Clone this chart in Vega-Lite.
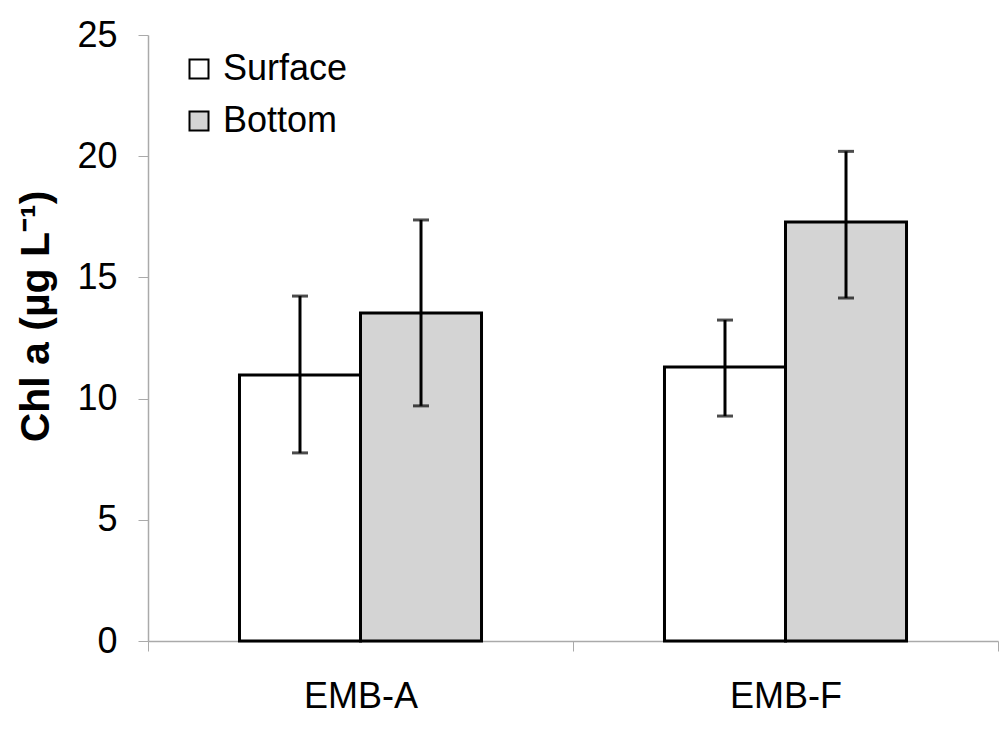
{
  "$schema": "https://vega.github.io/schema/vega-lite/v6.json",
  "autosize": "none",
  "width": 850,
  "height": 606,
  "padding": {"left": 148, "top": 35, "right": 6, "bottom": 89},
  "background": "white",
  "config": {"view": {"stroke": null}, "font": "Liberation Sans"},
  "data": {"values": [
    {"site": "EMB-A", "depth": "Surface", "chl": 10.97, "lo": 7.76, "hi": 14.23},
    {"site": "EMB-A", "depth": "Bottom", "chl": 13.53, "lo": 9.7, "hi": 17.37},
    {"site": "EMB-F", "depth": "Surface", "chl": 11.3, "lo": 9.28, "hi": 13.24},
    {"site": "EMB-F", "depth": "Bottom", "chl": 17.29, "lo": 14.15, "hi": 20.2}
  ]},
  "encoding": {
    "x": {"field": "site", "type": "nominal", "sort": ["EMB-A", "EMB-F"],
      "scale": {"paddingInner": 0, "paddingOuter": 0},
      "axis": {"title": null, "labelAngle": 0, "labelFontSize": 36, "labelColor": "black", "labelPadding": 28,
        "domainColor": "#aaaaaa", "domainWidth": 1.5, "tickColor": "#aaaaaa", "tickSize": 10, "tickBand": "extent"}},
    "xOffset": {"field": "depth", "type": "nominal", "sort": ["Surface", "Bottom"],
      "scale": {"paddingInner": 0, "paddingOuter": 0.756}}
  },
  "layer": [
    {
      "mark": {"type": "bar", "stroke": "black", "strokeWidth": 3},
      "encoding": {
        "y": {"field": "chl", "type": "quantitative", "scale": {"domain": [0, 25], "nice": false},
          "axis": {"title": "Chl a (µg L⁻¹)", "titleFontSize": 41, "titleFontWeight": "bold", "titleColor": "black", "titlePadding": 19, "titleY": 281,
            "values": [0, 5, 10, 15, 20, 25], "labelFontSize": 36, "labelColor": "black", "labelPadding": 21,
            "grid": false, "domainColor": "#aaaaaa", "domainWidth": 1.5, "tickColor": "#aaaaaa", "tickSize": 10}},
        "fill": {"field": "depth", "type": "nominal", "sort": ["Surface", "Bottom"],
          "scale": {"domain": ["Surface", "Bottom"], "range": ["#ffffff", "#d4d4d4"]},
          "legend": {"title": null, "orient": "none", "legendX": 33, "legendY": 16, "symbolType": "square", "symbolSize": 361,
            "symbolStrokeColor": "black", "symbolStrokeWidth": 2, "labelFontSize": 36, "labelColor": "black", "rowPadding": 16, "labelOffset": 6}}
      }
    },
    {
      "mark": {"type": "rule", "color": "black", "strokeWidth": 3},
      "encoding": {"y": {"field": "lo", "type": "quantitative", "scale": {"domain": [0, 25], "nice": false}}, "y2": {"field": "hi"}}
    },
    {
      "mark": {"type": "tick", "color": "black", "size": 16, "thickness": 3, "orient": "horizontal"},
      "encoding": {"y": {"field": "lo", "type": "quantitative", "scale": {"domain": [0, 25], "nice": false}}}
    },
    {
      "mark": {"type": "tick", "color": "black", "size": 16, "thickness": 3, "orient": "horizontal"},
      "encoding": {"y": {"field": "hi", "type": "quantitative", "scale": {"domain": [0, 25], "nice": false}}}
    }
  ]
}
